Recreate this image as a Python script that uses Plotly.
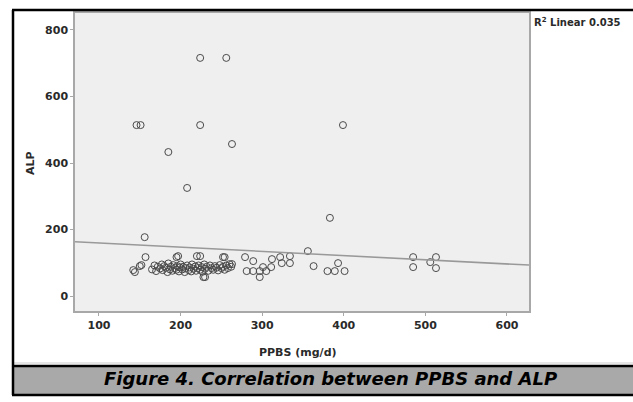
import plotly.graph_objects as go

# ---------------- data ----------------
ppbs = [
    # outliers / high ALP
    224, 256, 146, 151, 224, 185, 263, 208, 399, 383, 156,
    # scattered moderate points
    157, 152, 144, 142, 150, 195, 197, 220, 224, 252, 254, 263, 228, 230,
    279, 289, 281, 289, 297, 297, 301, 305, 311, 312, 322, 324, 334, 334,
    356, 363, 380, 389, 393, 401, 485, 485, 513, 506, 513,
    # dense cluster
    165, 168, 170, 172, 175, 177, 178, 180, 182, 184, 185, 187, 188, 190,
    191, 193, 195, 196, 198, 199, 200, 202, 203, 205, 206, 208, 210, 211,
    213, 214, 216, 218, 219, 221, 222, 224, 226, 227, 229, 230, 232, 234,
    236, 238, 240, 242, 244, 246, 248, 250, 252, 254, 256, 258, 260, 262,
]
alp = [
    716, 716, 514, 514, 514, 433, 457, 325, 514, 235, 177,
    117, 93, 72, 78, 90, 117, 120, 120, 120, 117, 117, 96, 57, 57,
    117, 105, 75, 75, 75, 57, 87, 75, 87, 111, 117, 99, 120, 99,
    135, 90, 75, 75, 99, 75, 117, 87, 117, 102, 84,
    80, 92, 75, 88, 83, 95, 78, 90, 85, 72, 98, 80, 88, 76,
    93, 84, 79, 90, 74, 86, 95, 80, 88, 72, 84, 92, 78, 86,
    74, 95, 82, 89, 76, 84, 92, 79, 87, 73, 95, 82, 88, 76,
    92, 84, 79, 90, 85, 77, 93, 84, 88, 79, 92, 84, 96, 88,
]

fit_x = [70.6, 627]
fit_y = [163, 93]

x_ticks = [100, 200, 300, 400, 500, 600]
y_ticks = [0, 200, 400, 600, 800]

x_title = "PPBS (mg/d)"
y_title = "ALP"
r2_text = "R<sup>2</sup> Linear 0.035"
caption = "Figure 4. Correlation between PPBS and ALP"

# ---------------- layout geometry (pixels) ----------------
W, H = 633, 402
PL, PR, PT, PB = 75, 529, 13, 311  # plot area edges


def px_x(px):
    return (px - PL) / (PR - PL)


def px_y(py):
    return (PB - py) / (PB - PT)


FONT = "Verdana, DejaVu Sans, sans-serif"

fig = go.Figure()
fig.add_trace(go.Scatter(
    x=ppbs, y=alp, mode="markers",
    marker=dict(symbol="circle-open", size=7, color="#4a4a4a",
                line=dict(width=1, color="#4a4a4a")),
    showlegend=False, hoverinfo="x+y",
))
fig.add_trace(go.Scatter(
    x=fit_x, y=fit_y, mode="lines",
    line=dict(color="#999999", width=1.5),
    showlegend=False, hoverinfo="skip",
))

axis_common = dict(
    showgrid=False, zeroline=False, showline=True, linecolor="#a8a8a8",
    linewidth=1.5, mirror=True, ticks="outside", ticklen=3, tickwidth=1,
    tickcolor="#a8a8a8",
    tickfont=dict(family=FONT, size=11, color="#2a2a2a", weight="bold"),
)

fig.update_layout(
    width=W, height=H, autosize=False,
    margin=dict(l=PL, r=W - PR, t=PT, b=H - PB, pad=0),
    paper_bgcolor="white", plot_bgcolor="#efefef",
    xaxis=dict(range=[70.6, 627], tickvals=x_ticks, ticktext=[str(v) for v in x_ticks],
               **axis_common),
    yaxis=dict(range=[-45, 851], tickvals=y_ticks, ticktext=[str(v) for v in y_ticks],
               **axis_common),
)

black = dict(color="black", width=2.5)
shapes = [
    # caption bar fill
    dict(type="rect", xref="paper", yref="paper",
         x0=px_x(13), x1=px_x(640), y0=px_y(395), y1=px_y(366),
         line=dict(width=0), fillcolor="#a9a9a9"),
    # faint line above caption
    dict(type="line", xref="paper", yref="paper",
         x0=px_x(14), x1=px_x(640), y0=px_y(363), y1=px_y(363),
         line=dict(color="#e6e6e6", width=2)),
    # white strip on the right side of the frame (frame runs off the page)
    dict(type="rect", xref="paper", yref="paper",
         x0=px_x(622), x1=px_x(640), y0=px_y(362), y1=px_y(12),
         line=dict(width=0), fillcolor="white", layer="above"),
    # outer frame: top, left, bottom, caption divider
    dict(type="line", xref="paper", yref="paper",
         x0=px_x(12), x1=px_x(640), y0=px_y(10), y1=px_y(10), line=black),
    dict(type="line", xref="paper", yref="paper",
         x0=px_x(13), x1=px_x(13), y0=px_y(10), y1=px_y(395), line=black),
    dict(type="line", xref="paper", yref="paper",
         x0=px_x(12), x1=px_x(640), y0=px_y(395), y1=px_y(395), line=black),
    dict(type="line", xref="paper", yref="paper",
         x0=px_x(12), x1=px_x(640), y0=px_y(366), y1=px_y(366), line=black),
]
fig.update_layout(shapes=shapes)

annotations = [
    dict(text="<b><i>" + caption + "</i></b>", xref="paper", yref="paper",
         x=px_x(330), y=px_y(379), xanchor="center", yanchor="middle",
         showarrow=False, font=dict(family=FONT, size=18, color="black")),
    dict(text="<b>" + x_title + "</b>", xref="paper", yref="paper",
         x=px_x(298), y=px_y(352), xanchor="center", yanchor="middle",
         showarrow=False, font=dict(family=FONT, size=11, color="#2a2a2a")),
    dict(text="<b>" + y_title + "</b>", xref="paper", yref="paper",
         x=px_x(30), y=px_y(163), xanchor="center", yanchor="middle",
         textangle=-90, showarrow=False,
         font=dict(family=FONT, size=11, color="#2a2a2a")),
    dict(text="<b>" + r2_text + "</b>", xref="paper", yref="paper",
         x=px_x(532), y=px_y(22), xanchor="left", yanchor="middle",
         showarrow=False, font=dict(family=FONT, size=10, color="#2a2a2a")),
]
fig.update_layout(annotations=annotations)

fig.write_html("out.html")
